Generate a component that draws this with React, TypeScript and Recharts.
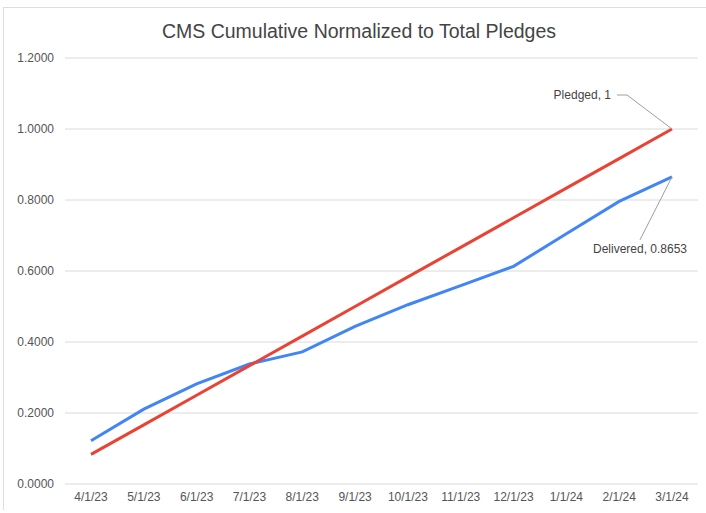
import { LineChart, Line, XAxis, YAxis, CartesianGrid } from 'recharts';

const months = ['4/1/23', '5/1/23', '6/1/23', '7/1/23', '8/1/23', '9/1/23', '10/1/23', '11/1/23', '12/1/23', '1/1/24', '2/1/24', '3/1/24'];
const pledged = [0.0833, 0.1667, 0.25, 0.3333, 0.4167, 0.5, 0.5833, 0.6667, 0.75, 0.8333, 0.9167, 1];
const delivered = [0.122, 0.211, 0.282, 0.338, 0.372, 0.444, 0.505, 0.559, 0.613, 0.705, 0.796, 0.8653];
const yTicks = [0, 0.2, 0.4, 0.6, 0.8, 1.0, 1.2];

const data = months.map((m, i) => ({ month: m, pledged: pledged[i], delivered: delivered[i] }));

const font = '"Liberation Sans", Arial, sans-serif';
const last = months.length - 1;

function PledgedLabel(props: any) {
  const { x, y, index, value } = props;
  if (index !== last) return null;
  return (
    <g>
      <path d={`M${x - 55},${y - 34} L${x - 45},${y - 34} L${x},${y}`} stroke="#9e9e9e" fill="none" strokeWidth={1} />
      <text x={x - 61} y={y - 33} textAnchor="end" dominantBaseline="middle" fontSize={12} fill="#444" fontFamily={font}>
        {`Pledged, ${value}`}
      </text>
    </g>
  );
}

function DeliveredLabel(props: any) {
  const { x, y, index, value } = props;
  if (index !== last) return null;
  return (
    <g>
      <path d={`M${x - 32},${y + 63} L${x},${y}`} stroke="#9e9e9e" fill="none" strokeWidth={1} />
      <text x={x - 32} y={y + 73} textAnchor="middle" dominantBaseline="middle" fontSize={12} fill="#444" fontFamily={font}>
        {`Delivered, ${value}`}
      </text>
    </g>
  );
}

export default function App() {
  return (
    <div style={{ position: 'fixed', left: 0, top: 0, width: 706, height: 513, background: '#fff', fontFamily: font }}>
      <div style={{ position: 'absolute', left: 3, top: 7, right: 0, bottom: 3, borderTop: '1.5px solid #dedede', borderLeft: '1.5px solid #dedede' }} />
      <div style={{ position: 'absolute', left: 0, width: 718, top: 19, textAlign: 'center', fontSize: 19.5, color: '#444', lineHeight: '24px' }}>
        CMS Cumulative Normalized to Total Pledges
      </div>
      <div style={{ position: 'absolute', left: 0, top: 0 }}>
        <LineChart width={706} height={513} data={data} margin={{ top: 58, right: 8, bottom: 0, left: 0 }}>
          <CartesianGrid vertical={false} stroke="#dadada" strokeWidth={1} />
          <XAxis
            dataKey="month"
            axisLine={false}
            tickLine={false}
            tickSize={0}
            tickMargin={8}
            height={29}
            interval={0}
            padding={{ left: 26, right: 26 }}
            tick={{ fontSize: 12, fill: '#555', fontFamily: font }}
          />
          <YAxis
            domain={[0, 1.2]}
            ticks={yTicks}
            axisLine={false}
            tickLine={false}
            tickSize={0}
            tickMargin={11}
            width={65}
            tickFormatter={(v: number) => v.toFixed(4)}
            tick={{ fontSize: 12, fill: '#555', fontFamily: font }}
          />
          <Line type="linear" dataKey="delivered" stroke="#4285f4" strokeWidth={3} dot={false} isAnimationActive={false} label={<DeliveredLabel />} />
          <Line type="linear" dataKey="pledged" stroke="#ea4335" strokeWidth={3} dot={false} isAnimationActive={false} label={<PledgedLabel />} />
        </LineChart>
      </div>
    </div>
  );
}
